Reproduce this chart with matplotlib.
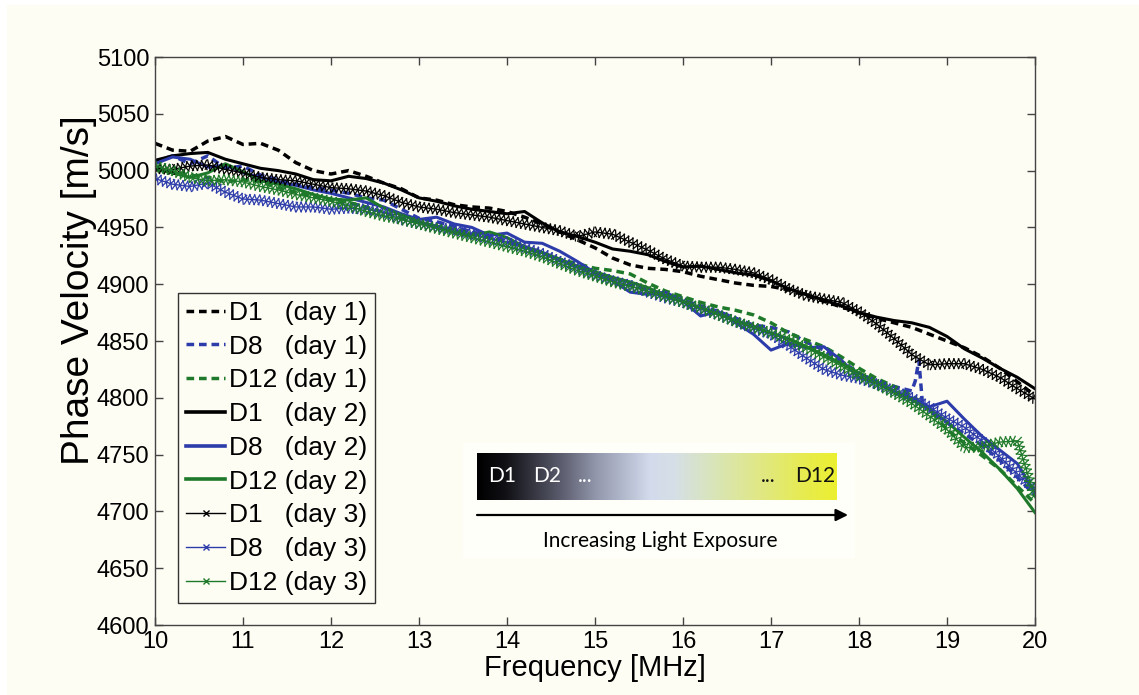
"""Phase velocity vs frequency for specimens D1 / D8 / D12 over three days."""

import numpy as np
import matplotlib
matplotlib.use("Agg")
import matplotlib.pyplot as plt
import matplotlib.patheffects as pe
from matplotlib.colors import LinearSegmentedColormap
from matplotlib.lines import Line2D
from matplotlib.patches import Rectangle

# Frequency grid [MHz] shared by every curve
FREQ = np.round(np.arange(10.0, 20.01, 0.2), 1)

# Phase velocity [m/s], one value per FREQ point
D1_DAY1 = [5024, 5018, 5017, 5026, 5030, 5023, 5024, 5018, 5007, 5000,
           4997, 5000, 4995, 4989, 4984, 4976, 4974, 4970, 4968, 4967,
           4964, 4959, 4953, 4946, 4939, 4932, 4923, 4917, 4914, 4913,
           4911, 4907, 4904, 4901, 4899, 4898, 4895, 4890, 4885, 4880,
           4875, 4870, 4866, 4862, 4856, 4850, 4844, 4836, 4826, 4814, 4802]
D8_DAY1 = [5008, 5013, 5006, 5013, 5002, 5004, 4996, 4992, 4988, 4985,
           4983, 4980, 4976, 4974, 4966, 4958, 4955, 4951, 4946, 4943,
           4938, 4933, 4928, 4921, 4915, 4910, 4906, 4900, 4895, 4890,
           4886, 4881, 4876, 4870, 4864, 4862, 4858, 4849, 4842, 4832,
           4822, 4812, 4810, 4806, 4790, 4778, 4768, 4758, 4745, 4730, 4714]
D12_DAY1 = [5003, 4999, 4996, 4994, 4990, 4992, 4990, 4985, 4981, 4977,
            4974, 4972, 4968, 4963, 4958, 4954, 4951, 4948, 4945, 4941,
            4937, 4932, 4927, 4922, 4918, 4914, 4912, 4909, 4901, 4894,
            4889, 4884, 4880, 4877, 4873, 4866, 4857, 4851, 4845, 4836,
            4826, 4817, 4810, 4802, 4790, 4772, 4760, 4749, 4737, 4722, 4707]
D1_DAY2 = [5009, 5013, 5015, 5016, 5010, 5006, 5002, 5000, 4997, 4992,
           4991, 4995, 4993, 4989, 4983, 4976, 4973, 4969, 4966, 4964,
           4962, 4964, 4954, 4946, 4942, 4937, 4931, 4929, 4926, 4920,
           4915, 4916, 4913, 4910, 4908, 4903, 4896, 4891, 4886, 4881,
           4875, 4871, 4868, 4866, 4862, 4854, 4843, 4835, 4826, 4818, 4808]
D8_DAY2 = [5006, 5012, 5010, 5003, 5005, 4998, 4994, 4990, 4987, 4983,
           4980, 4976, 4972, 4968, 4962, 4957, 4959, 4953, 4950, 4943,
           4945, 4937, 4936, 4929, 4920, 4910, 4903, 4893, 4891, 4893,
           4885, 4872, 4876, 4866, 4856, 4842, 4848, 4844, 4845, 4833,
           4818, 4814, 4806, 4800, 4792, 4797, 4781, 4766, 4754, 4742, 4716]
D12_DAY2 = [5001, 4998, 4994, 4998, 5006, 4999, 4991, 4988, 4984, 4979,
            4975, 4974, 4976, 4967, 4961, 4955, 4951, 4946, 4943, 4946,
            4941, 4933, 4928, 4922, 4916, 4911, 4906, 4902, 4897, 4890,
            4885, 4879, 4874, 4868, 4863, 4857, 4852, 4845, 4838, 4830,
            4822, 4814, 4806, 4798, 4790, 4779, 4765, 4752, 4737, 4720, 4699]
D1_DAY3 = [5002, 5001, 5004, 5005, 5001, 4998, 4994, 4992, 4991, 4988,
           4985, 4984, 4982, 4978, 4972, 4968, 4966, 4963, 4961, 4959,
           4956, 4953, 4950, 4947, 4942, 4946, 4944, 4937, 4930, 4922,
           4916, 4915, 4915, 4913, 4910, 4904, 4896, 4890, 4887, 4884,
           4876, 4865, 4852, 4838, 4829, 4830, 4830, 4825, 4818, 4808, 4799]
D8_DAY3 = [4993, 4988, 4986, 4989, 4981, 4975, 4974, 4971, 4968, 4968,
           4966, 4967, 4966, 4963, 4957, 4953, 4950, 4948, 4944, 4940,
           4937, 4932, 4927, 4920, 4914, 4908, 4903, 4899, 4893, 4888,
           4884, 4878, 4873, 4867, 4861, 4856, 4846, 4835, 4825, 4820,
           4817, 4812, 4806, 4800, 4792, 4782, 4774, 4762, 4748, 4733, 4719]
D12_DAY3 = [5004, 5000, 4994, 4991, 4992, 4990, 4986, 4983, 4979, 4976,
            4973, 4969, 4964, 4960, 4957, 4953, 4949, 4945, 4941, 4937,
            4933, 4929, 4924, 4918, 4912, 4907, 4902, 4898, 4894, 4889,
            4884, 4879, 4873, 4867, 4862, 4857, 4851, 4844, 4836, 4828,
            4819, 4812, 4804, 4795, 4784, 4772, 4756, 4757, 4761, 4762, 4712]

# Narrow spike in the D8 day-1 curve near 18.7 MHz (extra samples)
D8_DAY1_SPIKE_F = [18.64, 18.68, 18.72]
D8_DAY1_SPIKE_V = [4815, 4833, 4796]

SPECIMENS = ["D1", "D8", "D12"]
DAYS = [1, 2, 3]

X_TICKS = list(range(10, 21))
Y_TICKS = list(range(4600, 5101, 50))

COLORS = {"D1": "#000000", "D8": "#2d3cab", "D12": "#1e7a2a"}
CREAM = "#fefdf3"
W, H = 1139, 695


def x_effects():
    """Cross-hatched stroke imitating dense 'x' markers along the curve."""
    fx = [pe.Normal()]
    for ang in (62, -118, 118, -62):
        fx.append(pe.TickedStroke(spacing=3.4, angle=ang, length=1.15, linewidth=0.9))
    return fx


def series_data(spec, day):
    vals = {
        ("D1", 1): D1_DAY1, ("D8", 1): D8_DAY1, ("D12", 1): D12_DAY1,
        ("D1", 2): D1_DAY2, ("D8", 2): D8_DAY2, ("D12", 2): D12_DAY2,
        ("D1", 3): D1_DAY3, ("D8", 3): D8_DAY3, ("D12", 3): D12_DAY3,
    }[(spec, day)]
    f = np.asarray(FREQ, dtype=float)
    v = np.asarray(vals, dtype=float)
    if (spec, day) == ("D8", 1):
        f = np.concatenate([f, D8_DAY1_SPIKE_F])
        v = np.concatenate([v, D8_DAY1_SPIKE_V])
        order = np.argsort(f)
        f, v = f[order], v[order]
    return f, v


def main():
    plt.rcParams["font.family"] = ["Liberation Sans", "DejaVu Sans"]

    fig = plt.figure(figsize=(W / 100, H / 100), dpi=100, facecolor="white")
    fig.patches.append(Rectangle((7, 0), W - 7, H - 5, transform=None,
                                 facecolor=CREAM, edgecolor="none", zorder=-10))

    ax = fig.add_axes([155 / W, 1 - 625 / H, 880 / W, 568 / H])
    ax.set_facecolor(CREAM)

    handles = []
    for day in DAYS:
        for spec in SPECIMENS:
            f, v = series_data(spec, day)
            col = COLORS[spec]
            label = f"{spec}{' ' * (2 * (3 - len(spec)) + 1)}(day {day})"
            if day == 1:
                ax.plot(f, v, color=col, lw=2.5, dashes=(2.2, 1.4))
                handles.append(Line2D([], [], color=col, lw=2.5, dashes=(2.2, 1.4), label=label))
            elif day == 2:
                ax.plot(f, v, color=col, lw=2.2)
                handles.append(Line2D([], [], color=col, lw=2.6, label=label))
            else:
                ax.plot(f, v, color=col, lw=1.0, path_effects=x_effects())
                handles.append(Line2D([], [], color=col, lw=1.0, marker="x",
                                      markersize=5, label=label))

    ax.set_xlim(10, 20)
    ax.set_ylim(4600, 5100)
    ax.set_xticks(X_TICKS)
    ax.set_yticks(Y_TICKS)
    ax.tick_params(direction="in", top=True, right=True, length=6, width=1,
                   color="#444444", labelsize=17, pad=4)
    for s in ax.spines.values():
        s.set_color("#444444")
        s.set_linewidth(1)
    ax.set_xlabel("Frequency [MHz]", fontsize=21, labelpad=1)
    ax.set_ylabel("Phase Velocity [m/s]", fontsize=28)
    ax.yaxis.set_label_coords(-0.066, 0.59)

    leg = ax.legend(handles=handles, loc="lower left", bbox_to_anchor=(0.026, 0.039),
                    borderaxespad=0, fontsize=19, handlelength=1.5, handletextpad=0.12,
                    labelspacing=0.37, borderpad=0.3, fancybox=False, framealpha=1,
                    facecolor=CREAM, edgecolor="#333333")
    leg.get_frame().set_linewidth(1)

    # Inset: light-exposure colour scale on a faint white card
    fig.patches.append(Rectangle((463, H - 558), 392, 115, transform=None,
                                 facecolor="#fffffa", edgecolor="none", zorder=1))
    cmap = LinearSegmentedColormap.from_list("exposure", [
        (0.0, "#000000"), (0.08, "#111116"), (0.23, "#5a5b6c"), (0.33, "#9297ab"),
        (0.48, "#d3daec"), (0.55, "#d6dfe6"), (0.66, "#d9e5b8"), (0.8, "#e1e87f"),
        (0.93, "#e8ec48"), (1.0, "#ecf030")])
    cax = fig.add_axes([477 / W, 1 - 500 / H, 360 / W, 47 / H], zorder=3)
    cax.imshow(np.linspace(0, 1, 256)[None, :], aspect="auto", cmap=cmap,
               extent=(0, 1, 0, 1))
    cax.set_axis_off()
    for x, txt, col in [(0.07, "D1", "white"), (0.195, "D2", "white"),
                        (0.3, "...", "white"), (0.81, "...", "#111111"),
                        (0.94, "D12", "#111111")]:
        cax.text(x, 0.5, txt, color=col, fontsize=15, family=["Lato", "DejaVu Sans"],
                 ha="center", va="center")
    cax.annotate("", xy=(848, H - 515), xytext=(477, H - 515),
                 xycoords="figure pixels", textcoords="figure pixels",
                 arrowprops=dict(arrowstyle="-|>", color="black", lw=1.6,
                                 mutation_scale=18, shrinkA=0, shrinkB=0),
                 annotation_clip=False)
    fig.text(660 / W, 1 - 541 / H, "Increasing Light Exposure", fontsize=15,
             family=["Lato", "DejaVu Sans"], ha="center", va="center", zorder=4)

    fig.savefig("out.png", dpi=100, facecolor="white")
    plt.close(fig)


if __name__ == "__main__":
    main()
